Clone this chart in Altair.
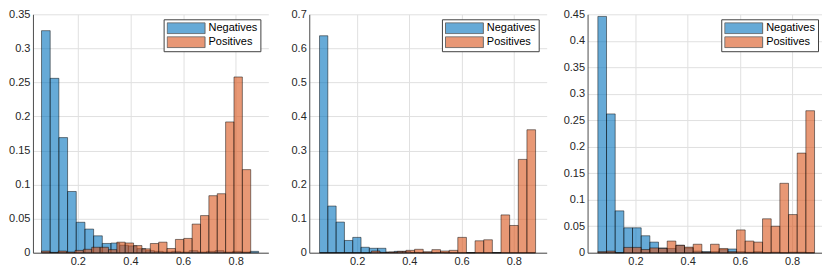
import altair as alt
import numpy as np
import pandas as pd

series_names = ["Negatives", "Positives"]
series_colors = ["#0072BD", "#D95319"]

# ---- panel 1 ----
p1_neg_start, p1_neg_width = 0.062, 0.033
p1_neg = [0.326, 0.256, 0.169, 0.0899, 0.0447, 0.0347, 0.0248, 0.0136, 0.0142,
          0.011, 0.010, 0.006, 0.003, 0.002, 0.001, 0.002, 0.001, 0.003, 0.001,
          0.002, 0.003, 0.001, 0.002, 0.001, 0.002]
p1_pos_start, p1_pos_width = 0.062, 0.0318
p1_pos = [0.0024, 0.0005, 0.0024, 0.001, 0.0034, 0.005, 0.008, 0.008, 0.0045,
          0.0155, 0.0143, 0.0105, 0.0057, 0.0135, 0.0155, 0.0062, 0.0195, 0.021,
          0.042, 0.0545, 0.0837, 0.0866, 0.192, 0.258, 0.122]

# ---- panel 2 ----
p2_neg_start, p2_neg_width = 0.056, 0.0318
p2_neg = [0.637, 0.137, 0.090, 0.036, 0.045, 0.016, 0.013, 0.013, 0.002, 0.004,
          0.004, 0.001, 0.0, 0.0, 0.001, 0.0, 0.0, 0.0, 0.0, 0.0, 0.0, 0.0, 0.0,
          0.0, 0.0, 0.0]
p2_pos_start, p2_pos_width = 0.056, 0.0331
p2_pos = [0.0, 0.0, 0.0, 0.0, 0.0, 0.0, 0.005, 0.001, 0.002, 0.004, 0.007, 0.010,
          0.003, 0.009, 0.005, 0.007, 0.045, 0.0, 0.035, 0.038, 0.0, 0.111, 0.080,
          0.274, 0.361]

# ---- panel 3 ----
p3_neg_start, p3_neg_width = 0.056, 0.0332
p3_neg = [0.446, 0.262, 0.079, 0.047, 0.047, 0.032, 0.020, 0.009, 0.008, 0.014,
          0.009, 0.003, 0.002, 0.002, 0.006, 0.007, 0.002, 0.001, 0.002, 0.0,
          0.001, 0.0, 0.001, 0.001, 0.0]
p3_pos_start, p3_pos_width = 0.056, 0.0332
p3_pos = [0.002, 0.003, 0.0, 0.010, 0.010, 0.006, 0.009, 0.008, 0.022, 0.014,
          0.0105, 0.016, 0.001, 0.016, 0.008, 0.002, 0.043, 0.022, 0.020, 0.064,
          0.050, 0.131, 0.072, 0.188, 0.268]

y_max = [0.35, 0.7, 0.45]
y_step = [0.05, 0.1, 0.05]
x_domains = [[0.0294, 0.924], [0.0167, 0.926], [0.0166, 0.9146]]
x_ticks = [0.2, 0.4, 0.6, 0.8]
widths = [236, 238, 235]
legend_right_gap = [9, 9, 5]
HEIGHT = 239

FONT = "Liberation Sans"
TXT = "#262626"


def hist_frame(start, width, values, name):
    n = len(values)
    edges = start + width * np.arange(n + 1)
    return pd.DataFrame({"series": name, "x0": edges[:-1], "x1": edges[1:],
                         "p": values})


def panel(i, neg, pos):
    df = pd.concat([hist_frame(*neg, series_names[0]),
                    hist_frame(*pos, series_names[1])], ignore_index=True)
    yticks = [float(v) for v in np.round(np.arange(0, y_max[i] + 1e-9, y_step[i]), 3)]
    legend = alt.Legend(
        title=None, orient="none",
        legendX=widths[i] - legend_right_gap[i] - 96, legendY=5,
        symbolType="M-1,-0.2895H1V0.2895H-1Z", symbolSize=1444, clipHeight=12,
        symbolStrokeColor="black", symbolStrokeWidth=1, symbolOpacity=0.6,
        labelFont=FONT, labelFontSize=11, labelColor="black", labelOffset=3,
        rowPadding=2, padding=3, strokeColor="#404040", fillColor="white",
        cornerRadius=0,
    )
    return alt.Chart(df).mark_rect(
        fillOpacity=0.6, stroke="black", strokeWidth=0.6, strokeOpacity=0.8
    ).encode(
        x=alt.X("x0:Q", scale=alt.Scale(domain=x_domains[i], nice=False, zero=False),
                axis=alt.Axis(values=x_ticks, format="~g", title=None)),
        x2="x1",
        y=alt.Y("p:Q", scale=alt.Scale(domain=[0, y_max[i]], nice=False),
                axis=alt.Axis(values=yticks, format="~g", title=None)),
        y2=alt.datum(0),
        fill=alt.Fill("series:N",
                      scale=alt.Scale(domain=series_names, range=series_colors),
                      legend=legend),
    ).properties(width=widths[i], height=HEIGHT)


c1 = panel(0, (p1_neg_start, p1_neg_width, p1_neg), (p1_pos_start, p1_pos_width, p1_pos))
c2 = panel(1, (p2_neg_start, p2_neg_width, p2_neg), (p2_pos_start, p2_pos_width, p2_pos))
c3 = panel(2, (p3_neg_start, p3_neg_width, p3_neg), (p3_pos_start, p3_pos_width, p3_pos))

chart = alt.hconcat(c1, c2, c3, spacing=41, bounds="flush").resolve_scale(
    x="independent", y="independent", fill="independent"
).resolve_legend(fill="independent").properties(padding=0).configure_view(
    strokeWidth=0
).configure_axis(
    grid=True, gridColor="#e0e0e0", gridWidth=1,
    domainColor="#4d4d4d", domainWidth=1,
    ticks=False, tickSize=0, labelPadding=3,
    labelFont=FONT, labelFontSize=11, labelColor=TXT,
)

chart.save("out.html", embed_options={"renderer": "svg", "actions": False})
